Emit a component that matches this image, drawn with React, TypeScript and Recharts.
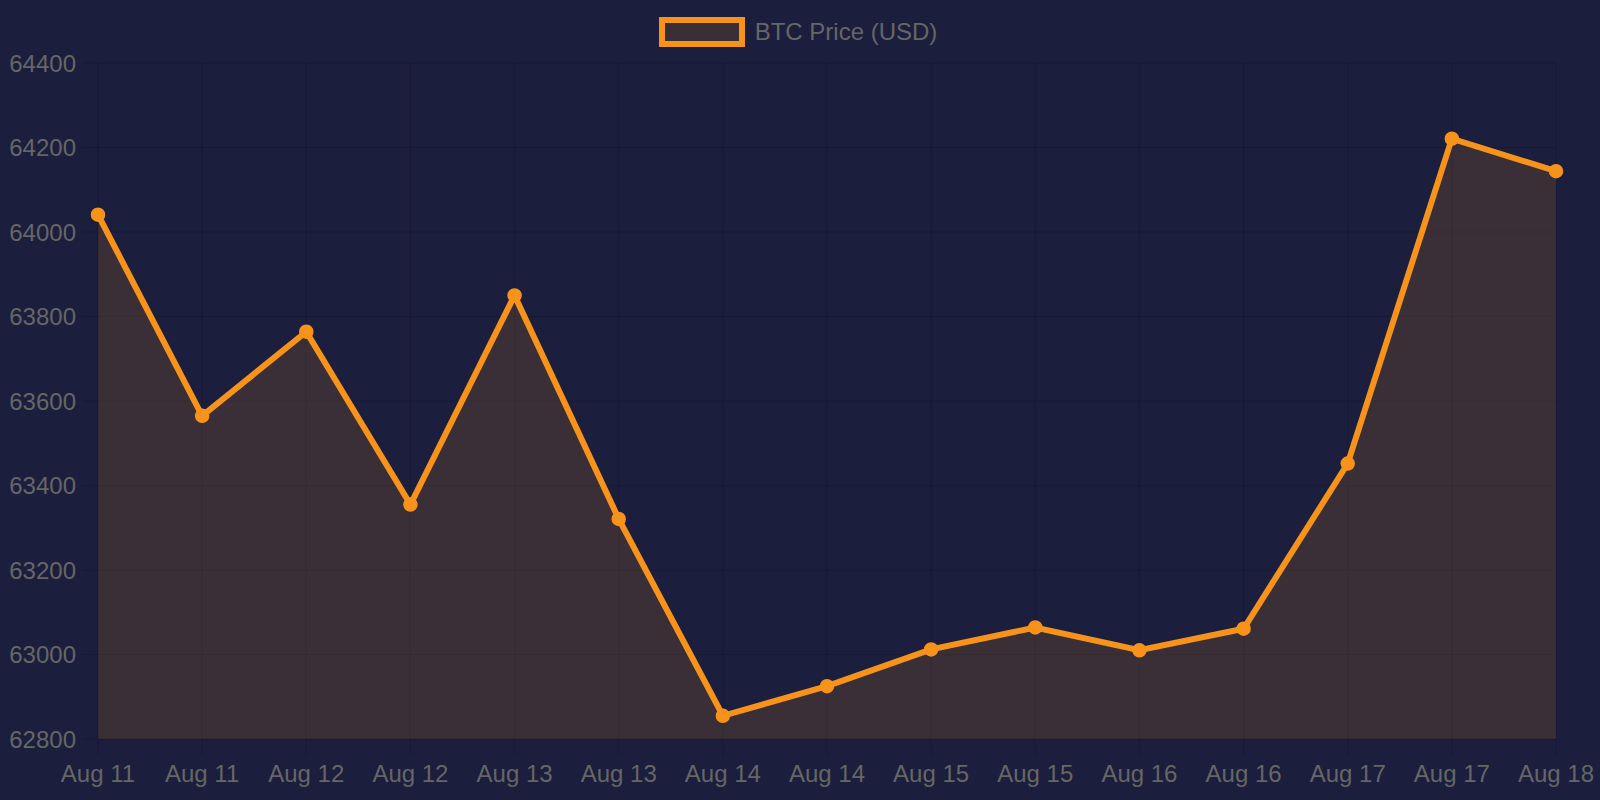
import React from "react";
import {
  AreaChart,
  Area,
  XAxis,
  YAxis,
  CartesianGrid,
  Legend,
} from "recharts";

const dateLabels = [
  "Aug 11", "Aug 11", "Aug 12", "Aug 12", "Aug 13", "Aug 13", "Aug 14", "Aug 14",
  "Aug 15", "Aug 15", "Aug 16", "Aug 16", "Aug 17", "Aug 17", "Aug 18",
];

const btcPrices = [
  64041, 63565, 63764, 63355, 63850, 63321, 62855, 62925,
  63012, 63064, 63010, 63061, 63452, 64221, 64144,
];

const yTicks = [62800, 63000, 63200, 63400, 63600, 63800, 64000, 64200, 64400];
const seriesName = "BTC Price (USD)";

const data = btcPrices.map((price, i) => ({ i, label: dateLabels[i], price }));

const BG = "#1b1e3c";
const ORANGE = "#f7931a";
const GRID = "rgba(0,0,0,0.12)";
const TEXT = "#666666";
const FONT = "'Liberation Sans', Arial, Helvetica, sans-serif";

const LegendContent = () => (
  <div
    style={{
      width: 1600,
      height: 50,
      display: "flex",
      justifyContent: "center",
      alignItems: "flex-start",
      fontFamily: FONT,
    }}
  >
    <div
      style={{
        display: "flex",
        alignItems: "center",
        marginTop: 17,
        marginLeft: -4,
      }}
    >
      <div
        style={{
          width: 74,
          height: 18,
          border: `6px solid ${ORANGE}`,
          background: "rgba(247,147,26,0.14)",
        }}
      />
      <span style={{ marginLeft: 10, fontSize: 24, color: TEXT, lineHeight: "30px" }}>
        {seriesName}
      </span>
    </div>
  </div>
);

export default function App() {
  return (
    <div
      style={{
        position: "absolute",
        left: 0,
        top: 0,
        width: 1600,
        height: 800,
        background: BG,
        fontFamily: FONT,
      }}
    >
      <AreaChart
        width={1600}
        height={800}
        data={data}
        margin={{ top: 13, right: 44, bottom: 0, left: 0 }}
      >
        <CartesianGrid stroke={GRID} strokeWidth={1} />
        <XAxis
          dataKey="i"
          type="category"
          interval={0}
          height={61}
          tickSize={16}
          tickMargin={10}
          tickFormatter={(v: number) => dateLabels[v]}
          axisLine={{ stroke: GRID }}
          tickLine={{ stroke: GRID }}
          tick={{ fill: TEXT, fontSize: 24, fontFamily: FONT }}
        />
        <YAxis
          width={98}
          domain={[62800, 64400]}
          ticks={yTicks}
          interval={0}
          tickSize={16}
          tickMargin={6}
          axisLine={{ stroke: GRID }}
          tickLine={{ stroke: GRID }}
          tick={{ fill: TEXT, fontSize: 24, fontFamily: FONT }}
        />
        <Legend
          verticalAlign="top"
          align="center"
          height={50}
          content={() => <LegendContent />}
          wrapperStyle={{ left: 0, top: 0, width: 1600, height: 50 }}
        />
        <Area
          type="linear"
          dataKey="price"
          name={seriesName}
          stroke={ORANGE}
          strokeWidth={6}
          fill={ORANGE}
          fillOpacity={0.14}
          baseValue={62800}
          dot={{ r: 6.5, fill: ORANGE, stroke: ORANGE, strokeWidth: 1.5, fillOpacity: 1 }}
          activeDot={false}
          isAnimationActive={false}
        />
      </AreaChart>
    </div>
  );
}
